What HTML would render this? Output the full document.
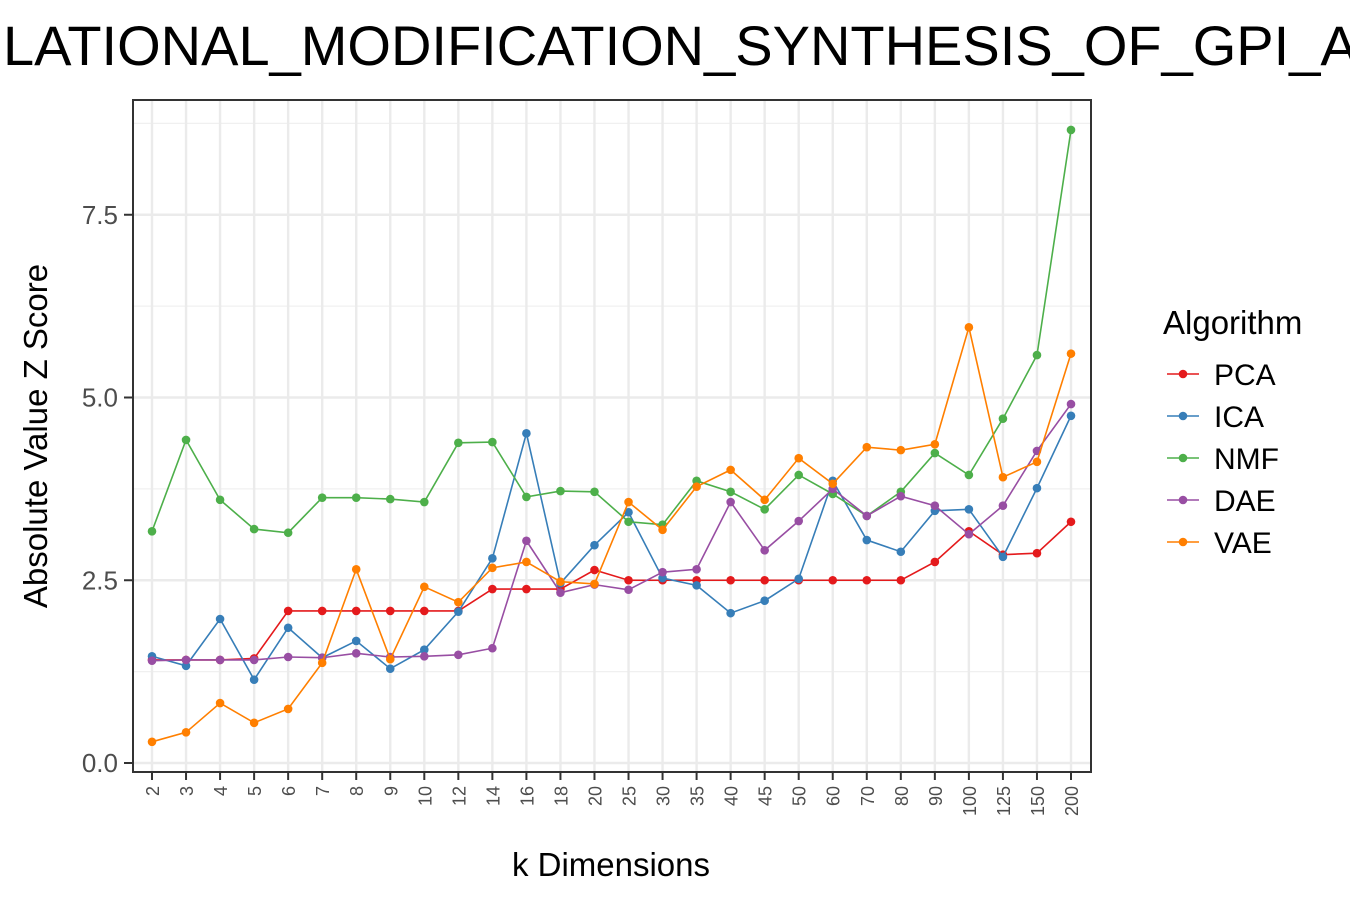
<!DOCTYPE html>
<html><head><meta charset="utf-8">
<style>
html,body{margin:0;padding:0;background:#fff;}
svg{display:block;font-family:"Liberation Sans",Arial,sans-serif;}
</style></head>
<body>
<svg id="chart" width="1350" height="900" viewBox="0 0 1350 900">
<text x="3" y="65" font-size="56" fill="#000">LATIONAL_MODIFICATION_SYNTHESIS_OF_GPI_AN</text>
<g id="grid"></g>
<g id="series"></g>
<rect x="133" y="100" width="958" height="672" fill="none" stroke="#333" stroke-width="2"/>
<g id="axes"></g>
<text transform="translate(47,436) rotate(-90)" text-anchor="middle" font-size="33" fill="#000">Absolute Value Z Score</text>
<text x="611" y="876" text-anchor="middle" font-size="33" fill="#000">k Dimensions</text>
<g id="legend">
<text x="1163" y="334" font-size="33" fill="#000">Algorithm</text>
</g>
</svg>
<script>
const categories=["2","3","4","5","6","7","8","9","10","12","14","16","18","20","25","30","35","40","45","50","60","70","80","90","100","125","150","200"];
const pcaValues=[1.41,1.41,1.41,1.43,2.08,2.08,2.08,2.08,2.08,2.08,2.38,2.38,2.38,2.64,2.50,2.50,2.50,2.50,2.50,2.50,2.50,2.50,2.50,2.75,3.17,2.85,2.87,3.30];
const icaValues=[1.46,1.33,1.97,1.14,1.85,1.44,1.67,1.29,1.55,2.07,2.80,4.51,2.46,2.98,3.43,2.53,2.43,2.05,2.22,2.52,3.86,3.05,2.89,3.45,3.47,2.82,3.76,4.75];
const nmfValues=[3.17,4.42,3.60,3.20,3.15,3.63,3.63,3.61,3.57,4.38,4.39,3.64,3.72,3.71,3.30,3.26,3.86,3.71,3.47,3.94,3.68,3.38,3.71,4.24,3.94,4.71,5.58,8.66];
const daeValues=[1.40,1.41,1.41,1.41,1.45,1.44,1.50,1.45,1.46,1.48,1.57,3.04,2.33,2.44,2.37,2.61,2.65,3.57,2.91,3.31,3.75,3.38,3.65,3.52,3.13,3.52,4.27,4.91];
const vaeValues=[0.29,0.42,0.82,0.55,0.74,1.37,2.65,1.42,2.41,2.20,2.67,2.75,2.48,2.45,3.57,3.19,3.78,4.01,3.60,4.17,3.82,4.32,4.28,4.36,5.96,3.91,4.12,5.60];
const yTicks=[0,2.5,5,7.5];
const yTickLabels=["0.0","2.5","5.0","7.5"];
const seriesNames=["PCA","ICA","NMF","DAE","VAE"];
const seriesColors=["#E41A1C","#377EB8","#4DAF4A","#984EA3","#FF7F00"];
const seriesData=[pcaValues,icaValues,nmfValues,daeValues,vaeValues];

const NS="http://www.w3.org/2000/svg";
const x=i=>152+i*(1071-152)/(categories.length-1);
const y=v=>763-v*73.1;
function mk(tag,attrs,parent){const e=document.createElementNS(NS,tag);for(const k in attrs)e.setAttribute(k,attrs[k]);parent.appendChild(e);return e;}
const grid=document.getElementById('grid'),axes=document.getElementById('axes'),ser=document.getElementById('series'),leg=document.getElementById('legend');
for(let v=-1.25;v<=9;v+=2.5){const yy=y(v);if(yy<100||yy>772)continue;
 const l=mk('line',{x1:133,x2:1091,y1:yy,y2:yy,stroke:'#f0f0f0','stroke-width':1.2},grid);
 
 }
yTicks.forEach((v,i)=>{const yy=y(v);
 const l=mk('line',{x1:133,x2:1091,y1:yy,y2:yy,stroke:'#ebebeb','stroke-width':2.4},grid);
 
 
 const t=mk('line',{x1:124,x2:133,y1:yy,y2:yy,stroke:'#333','stroke-width':2},axes);
 
 
 const tx=mk('text',{x:118,y:yy+9,'text-anchor':'end','font-size':26,fill:'#4d4d4d'},axes);tx.textContent=yTickLabels[i];
 
 });
categories.forEach((c,i)=>{const xx=x(i);
 const l=mk('line',{x1:xx,x2:xx,y1:100,y2:772,stroke:'#ebebeb','stroke-width':2.4},grid);
 
 
 const t=mk('line',{x1:xx,x2:xx,y1:772,y2:780,stroke:'#333','stroke-width':2},axes);
 
 
 const tx=mk('text',{transform:`translate(${xx+7},786) rotate(-90)`,'text-anchor':'end','font-size':18,fill:'#4d4d4d'},axes);tx.textContent=c;
 
 });
seriesData.forEach((d,s)=>{
 const p=mk('polyline',{points:d.map((v,i)=>x(i)+','+y(v)).join(' '),fill:'none',stroke:seriesColors[s],'stroke-width':1.6},ser);
 
 
 d.forEach((v,i)=>{const c=mk('circle',{cx:x(i),cy:y(v),r:4.3,fill:seriesColors[s]},ser);
  
  });
 const ly=374+s*42;
 const ll=mk('line',{x1:1167,x2:1199,y1:ly,y2:ly,stroke:seriesColors[s],'stroke-width':1.6},leg);
 
 
 const lc=mk('circle',{cx:1183,cy:ly,r:4.3,fill:seriesColors[s]},leg);
 
 
 const lt=mk('text',{x:1214,y:ly+11,'font-size':30,fill:'#000'},leg);lt.textContent=seriesNames[s];
 
 
});
</script>
</body></html>
